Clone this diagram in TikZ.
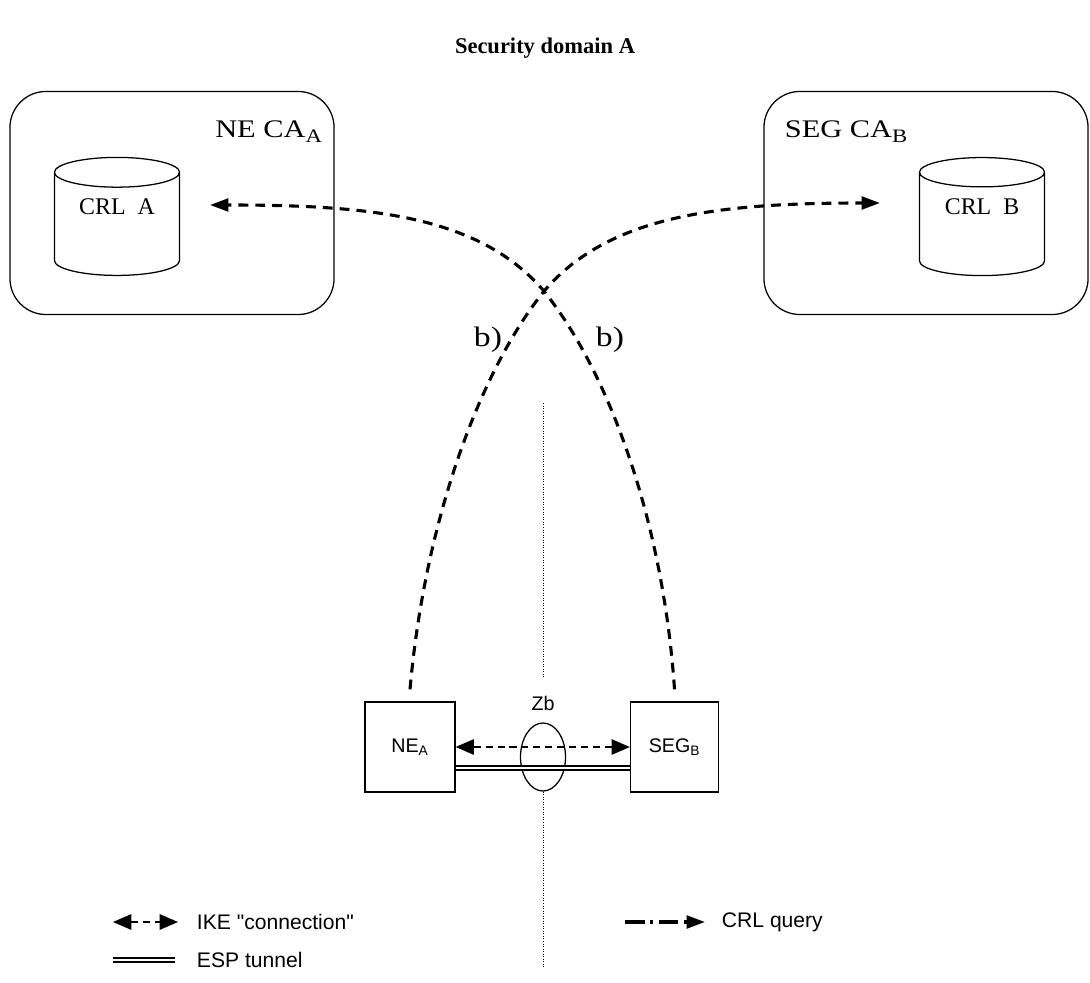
\documentclass[tikz,border=0pt]{standalone}
\usepackage{fontspec}
\setmainfont{Liberation Serif}
\setsansfont{Liberation Sans}
\newfontfamily\wideserif[FakeStretch=1.2]{Liberation Serif}
\newfontfamily\plainsans[Ligatures=TeXOff]{Liberation Sans}
\newcommand\labsub[1]{\raisebox{-0.35ex}{\scalebox{0.75}{#1}}}
\usetikzlibrary{arrows.meta,shapes.geometric}

\begin{document}
\begin{tikzpicture}[x=0.025cm,y=-0.025cm,
  serif/.style={font=\fontsize{17}{20}\selectfont},
  calbl/.style={font=\wideserif\fontsize{18}{21}\selectfont},
  sans/.style={font=\sffamily\fontsize{14}{16}\selectfont},
  legend/.style={font=\plainsans\fontsize{15}{17}\selectfont,anchor=west},
  cabox/.style={draw,line width=0.9pt,rounded corners=0.9cm,minimum width=8.1cm,minimum height=5.575cm},
  crl/.style={draw,line width=0.9pt,cylinder,shape border rotate=90,aspect=0.35,minimum width=3.125cm,minimum height=2.95cm,serif},
  elem/.style={draw,line width=0.9pt,minimum height=2.25cm,sans},
  query/.style={line width=2.2pt,dash pattern=on 7pt off 5pt,-{Triangle[length=13pt,width=9pt]}},
  ike/.style={line width=0.9pt,dash pattern=on 5pt off 3.5pt,{Triangle[length=13pt,width=11pt]}-{Triangle[length=13pt,width=11pt]}},
  esp/.style={double,double distance=2pt,line width=0.9pt},
  zone/.style={line width=0.7pt,dash pattern=on 0.7pt off 1.1pt}]
\useasboundingbox (0,0) rectangle (1090,983);
\node[font=\bfseries\fontsize{16}{19}\selectfont] (title) at (545,48) {Security domain A};
\node[cabox] (caA) at (172,203) {};
\node[cabox] (caB) at (926,203) {};
\node[calbl,anchor=base east] (caAlbl) at (327,138) {NE CA\labsub{A}};
\node[calbl,anchor=base west] (caBlbl) at (780,138) {SEG CA\labsub{B}};
\node[crl] (crlA) at (117,227) {\phantom{CRL~ A}};
\node[crl] (crlB) at (982,227) {\phantom{CRL~ B}};
\node[serif] (crlAlbl) at (117,207) {CRL~ A};
\node[serif] (crlBlbl) at (982,207) {CRL~ B};
\coordinate (qA) at (210,205);
\coordinate (qB) at (880,203);
\node[elem,minimum width=2.25cm] (nea) at (410,747) {NE\textsubscript{A}};
\node[elem,minimum width=2.2cm] (segb) at (674.5,747) {SEG\textsubscript{B}};
\node[draw,line width=0.9pt,ellipse,minimum width=1.125cm,minimum height=1.7cm,inner sep=0pt] (ring) at (543,757) {};
\node[sans] (zb) at (543,703) {Zb};
\draw[query] ([yshift=0.3cm]nea.north) .. controls (425,520) and (480,370) .. (545,290) .. controls (610,215) and (720,203) .. (qB);
\draw[query] ([yshift=0.3cm]segb.north) .. controls (663,520) and (608,370) .. (543,290) .. controls (478,215) and (368,205) .. (qA);
\node[calbl,font=\wideserif\fontsize{20}{23}\selectfont] (bA) at (488,340) {b)};
\node[calbl,font=\wideserif\fontsize{20}{23}\selectfont] (bB) at (610,340) {b)};
\draw[zone] (543,403) -- (543,678);
\draw[zone] (ring.south) -- (543,968);
\draw[ike] (nea.east |- 0,747) -- (segb.west |- 0,747);
\draw[esp] (nea.east |- 0,768) -- (segb.west |- 0,768);
\draw[ike] (113,922) -- (178,922);
\node[legend] (lgike) at (192,922) {IKE "connection"};
\draw[esp] (113,960) -- (175,960);
\node[legend] (lgesp) at (192,960) {ESP tunnel};
\draw[line width=2.2pt,dash pattern=on 14pt off 4pt on 2pt off 4pt,-{Triangle[length=13pt,width=9pt]}] (625,922) -- (705,922);
\node[legend] (lgcrl) at (717,922) {CRL query};
\end{tikzpicture}
\end{document}
